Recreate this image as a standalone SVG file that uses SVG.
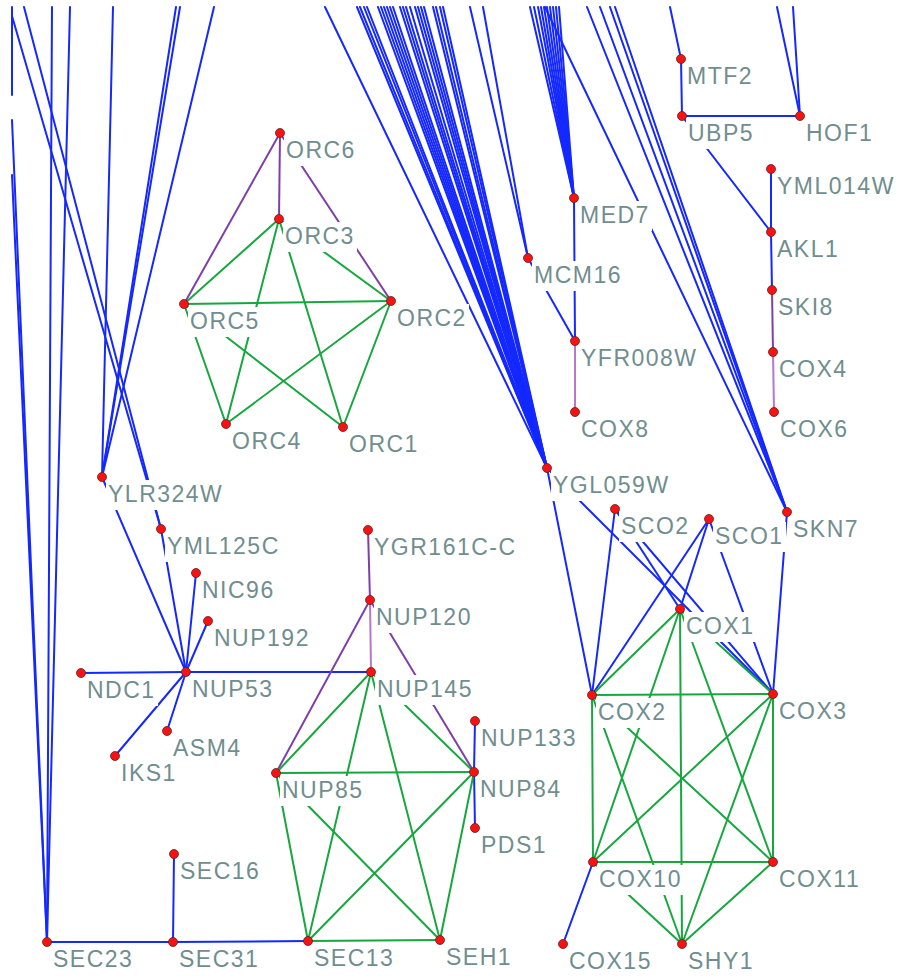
<svg xmlns="http://www.w3.org/2000/svg" width="898" height="976" viewBox="0 0 898 976">
<style>
.b line{stroke:#1428ff;stroke-width:2}
.g line{stroke:#16a83e;stroke-width:2}
.p line{stroke:#7f3fa8;stroke-width:2}
.q line{stroke:#b678c8;stroke-width:2}
.node rect{fill:#ffffff}
.node text{font-family:"Liberation Sans",Arial,sans-serif;font-size:23px;letter-spacing:1.5px;fill:#708e8e}
.node circle{fill:#ff1010;stroke:#4a2a2a;stroke-width:0.8}
</style>
<rect width="898" height="976" fill="#ffffff"/>
<g id="edges" stroke-linecap="round">
<g class="b">
<line x1="12" y1="7" x2="12" y2="95"/>
<line x1="47" y1="942" x2="12" y2="175"/>
<line x1="47" y1="942" x2="12" y2="120"/>
<line x1="47" y1="942" x2="52" y2="7"/>
<line x1="47" y1="942" x2="70" y2="7"/>
<line x1="161" y1="529" x2="24" y2="7"/>
<line x1="161" y1="529" x2="12" y2="16"/>
<line x1="102" y1="477" x2="113" y2="7"/>
<line x1="102" y1="477" x2="176" y2="7"/>
<line x1="102" y1="477" x2="180" y2="7"/>
<line x1="102" y1="477" x2="214" y2="7"/>
<line x1="547" y1="468" x2="325" y2="7"/>
<line x1="547" y1="468" x2="357" y2="7"/>
<line x1="547" y1="468" x2="360" y2="7"/>
<line x1="547" y1="468" x2="364" y2="7"/>
<line x1="547" y1="468" x2="367" y2="7"/>
<line x1="547" y1="468" x2="378" y2="7"/>
<line x1="547" y1="468" x2="381" y2="7"/>
<line x1="547" y1="468" x2="384" y2="7"/>
<line x1="547" y1="468" x2="387" y2="7"/>
<line x1="547" y1="468" x2="390" y2="7"/>
<line x1="547" y1="468" x2="393" y2="7"/>
<line x1="547" y1="468" x2="400" y2="7"/>
<line x1="547" y1="468" x2="403" y2="7"/>
<line x1="547" y1="468" x2="406" y2="7"/>
<line x1="547" y1="468" x2="410" y2="7"/>
<line x1="547" y1="468" x2="415" y2="7"/>
<line x1="547" y1="468" x2="418" y2="7"/>
<line x1="547" y1="468" x2="421" y2="7"/>
<line x1="547" y1="468" x2="424" y2="7"/>
<line x1="547" y1="468" x2="433" y2="7"/>
<line x1="547" y1="468" x2="436" y2="7"/>
<line x1="547" y1="468" x2="440" y2="7"/>
<line x1="547" y1="468" x2="443" y2="7"/>
<line x1="574" y1="198" x2="530" y2="7"/>
<line x1="574" y1="198" x2="534" y2="7"/>
<line x1="574" y1="198" x2="538" y2="7"/>
<line x1="574" y1="198" x2="541" y2="7"/>
<line x1="574" y1="198" x2="544" y2="7"/>
<line x1="574" y1="198" x2="547" y2="7"/>
<line x1="574" y1="198" x2="550" y2="7"/>
<line x1="574" y1="198" x2="553" y2="7"/>
<line x1="574" y1="198" x2="556" y2="7"/>
<line x1="574" y1="198" x2="559" y2="7"/>
<line x1="528" y1="258" x2="483" y2="7"/>
<line x1="528" y1="258" x2="470" y2="7"/>
<line x1="787" y1="512" x2="545" y2="7"/>
<line x1="787" y1="512" x2="587" y2="7"/>
<line x1="787" y1="512" x2="600" y2="7"/>
<line x1="787" y1="512" x2="610" y2="7"/>
<line x1="787" y1="512" x2="615" y2="7"/>
<line x1="681" y1="59" x2="670" y2="7"/>
<line x1="800" y1="116" x2="777" y2="7"/>
<line x1="800" y1="116" x2="793" y2="7"/>
<line x1="681" y1="59" x2="682" y2="116"/>
<line x1="682" y1="116" x2="800" y2="116"/>
<line x1="682" y1="116" x2="771" y2="232"/>
<line x1="771" y1="169" x2="771" y2="232"/>
<line x1="771" y1="232" x2="772" y2="290"/>
<line x1="574" y1="198" x2="575" y2="341"/>
<line x1="528" y1="258" x2="575" y2="341"/>
<line x1="547" y1="468" x2="592" y2="695"/>
<line x1="547" y1="468" x2="773" y2="694"/>
<line x1="615" y1="509" x2="592" y2="695"/>
<line x1="615" y1="509" x2="680" y2="609"/>
<line x1="615" y1="509" x2="773" y2="694"/>
<line x1="709" y1="519" x2="592" y2="695"/>
<line x1="709" y1="519" x2="680" y2="609"/>
<line x1="709" y1="519" x2="773" y2="694"/>
<line x1="787" y1="512" x2="773" y2="694"/>
<line x1="593" y1="862" x2="563" y2="944"/>
<line x1="186" y1="672" x2="81" y2="673"/>
<line x1="186" y1="672" x2="196" y2="573"/>
<line x1="186" y1="672" x2="208" y2="621"/>
<line x1="186" y1="672" x2="161" y2="529"/>
<line x1="186" y1="672" x2="102" y2="477"/>
<line x1="186" y1="672" x2="167" y2="731"/>
<line x1="186" y1="672" x2="115" y2="756"/>
<line x1="186" y1="672" x2="371" y2="672"/>
<line x1="474" y1="772" x2="475" y2="721"/>
<line x1="474" y1="772" x2="475" y2="828"/>
<line x1="47" y1="942" x2="173" y2="942"/>
<line x1="173" y1="942" x2="174" y2="854"/>
<line x1="173" y1="942" x2="308" y2="941"/>
</g>
<g class="p">
<line x1="280" y1="133" x2="279" y2="219"/>
<line x1="280" y1="133" x2="184" y2="304"/>
<line x1="280" y1="133" x2="391" y2="301"/>
<line x1="368" y1="530" x2="370" y2="600"/>
<line x1="370" y1="600" x2="276" y2="773"/>
<line x1="370" y1="600" x2="474" y2="772"/>
<line x1="772" y1="290" x2="773" y2="352"/>
</g>
<g class="q">
<line x1="370" y1="600" x2="371" y2="672"/>
<line x1="773" y1="352" x2="774" y2="412"/>
<line x1="575" y1="341" x2="575" y2="412"/>
</g>
<g class="g">
<line x1="279" y1="219" x2="184" y2="304"/>
<line x1="279" y1="219" x2="391" y2="301"/>
<line x1="279" y1="219" x2="226" y2="424"/>
<line x1="279" y1="219" x2="343" y2="427"/>
<line x1="184" y1="304" x2="391" y2="301"/>
<line x1="184" y1="304" x2="226" y2="424"/>
<line x1="184" y1="304" x2="343" y2="427"/>
<line x1="391" y1="301" x2="226" y2="424"/>
<line x1="391" y1="301" x2="343" y2="427"/>
<line x1="371" y1="672" x2="276" y2="773"/>
<line x1="371" y1="672" x2="474" y2="772"/>
<line x1="371" y1="672" x2="308" y2="941"/>
<line x1="371" y1="672" x2="440" y2="940"/>
<line x1="276" y1="773" x2="474" y2="772"/>
<line x1="276" y1="773" x2="308" y2="941"/>
<line x1="276" y1="773" x2="440" y2="940"/>
<line x1="474" y1="772" x2="308" y2="941"/>
<line x1="474" y1="772" x2="440" y2="940"/>
<line x1="308" y1="941" x2="440" y2="940"/>
<line x1="680" y1="609" x2="592" y2="695"/>
<line x1="680" y1="609" x2="773" y2="694"/>
<line x1="680" y1="609" x2="593" y2="862"/>
<line x1="680" y1="609" x2="773" y2="862"/>
<line x1="680" y1="609" x2="682" y2="944"/>
<line x1="592" y1="695" x2="773" y2="694"/>
<line x1="592" y1="695" x2="593" y2="862"/>
<line x1="592" y1="695" x2="773" y2="862"/>
<line x1="592" y1="695" x2="682" y2="944"/>
<line x1="773" y1="694" x2="593" y2="862"/>
<line x1="773" y1="694" x2="773" y2="862"/>
<line x1="773" y1="694" x2="682" y2="944"/>
<line x1="593" y1="862" x2="773" y2="862"/>
<line x1="593" y1="862" x2="682" y2="944"/>
<line x1="773" y1="862" x2="682" y2="944"/>
</g>
</g>
<g id="nodes">
<g id="MTF2" class="node"><rect x="685" y="62" width="71" height="30"/><text x="687" y="84">MTF2</text><circle cx="681" cy="59" r="4.5"/></g>
<g id="UBP5" class="node"><rect x="686" y="119" width="71" height="30"/><text x="688" y="141">UBP5</text><circle cx="682" cy="116" r="4.5"/></g>
<g id="HOF1" class="node"><rect x="804" y="119" width="72" height="30"/><text x="806" y="141">HOF1</text><circle cx="800" cy="116" r="4.5"/></g>
<g id="YML014W" class="node"><rect x="775" y="172" width="123" height="30"/><text x="777" y="194">YML014W</text><circle cx="771" cy="169" r="4.5"/></g>
<g id="AKL1" class="node"><rect x="775" y="235" width="67" height="30"/><text x="777" y="257">AKL1</text><circle cx="771" cy="232" r="4.5"/></g>
<g id="SKI8" class="node"><rect x="776" y="293" width="61" height="30"/><text x="778" y="315">SKI8</text><circle cx="772" cy="290" r="4.5"/></g>
<g id="COX4" class="node"><rect x="777" y="355" width="73" height="30"/><text x="779" y="377">COX4</text><circle cx="773" cy="352" r="4.5"/></g>
<g id="COX6" class="node"><rect x="778" y="415" width="73" height="30"/><text x="780" y="437">COX6</text><circle cx="774" cy="412" r="4.5"/></g>
<g id="MED7" class="node"><rect x="578" y="201" width="74" height="30"/><text x="580" y="223">MED7</text><circle cx="574" cy="198" r="4.5"/></g>
<g id="MCM16" class="node"><rect x="532" y="261" width="92" height="30"/><text x="534" y="283">MCM16</text><circle cx="528" cy="258" r="4.5"/></g>
<g id="YFR008W" class="node"><rect x="579" y="344" width="121" height="30"/><text x="581" y="366">YFR008W</text><circle cx="575" cy="341" r="4.5"/></g>
<g id="COX8" class="node"><rect x="579" y="415" width="73" height="30"/><text x="581" y="437">COX8</text><circle cx="575" cy="412" r="4.5"/></g>
<g id="YGL059W" class="node"><rect x="551" y="471" width="121" height="30"/><text x="553" y="493">YGL059W</text><circle cx="547" cy="468" r="4.5"/></g>
<g id="SKN7" class="node"><rect x="791" y="515" width="71" height="30"/><text x="793" y="537">SKN7</text><circle cx="787" cy="512" r="4.5"/></g>
<g id="SCO2" class="node"><rect x="619" y="512" width="73" height="30"/><text x="621" y="534">SCO2</text><circle cx="615" cy="509" r="4.5"/></g>
<g id="SCO1" class="node"><rect x="713" y="522" width="73" height="30"/><text x="715" y="544">SCO1</text><circle cx="709" cy="519" r="4.5"/></g>
<g id="COX1" class="node"><rect x="684" y="612" width="73" height="30"/><text x="686" y="634">COX1</text><circle cx="680" cy="609" r="4.5"/></g>
<g id="COX2" class="node"><rect x="596" y="698" width="73" height="30"/><text x="598" y="720">COX2</text><circle cx="592" cy="695" r="4.5"/></g>
<g id="COX3" class="node"><rect x="777" y="697" width="73" height="30"/><text x="779" y="719">COX3</text><circle cx="773" cy="694" r="4.5"/></g>
<g id="COX10" class="node"><rect x="597" y="865" width="87" height="30"/><text x="599" y="887">COX10</text><circle cx="593" cy="862" r="4.5"/></g>
<g id="COX11" class="node"><rect x="777" y="865" width="87" height="30"/><text x="779" y="887">COX11</text><circle cx="773" cy="862" r="4.5"/></g>
<g id="SHY1" class="node"><rect x="686" y="947" width="71" height="29"/><text x="688" y="969">SHY1</text><circle cx="682" cy="944" r="4.5"/></g>
<g id="COX15" class="node"><rect x="567" y="947" width="87" height="29"/><text x="569" y="969">COX15</text><circle cx="563" cy="944" r="4.5"/></g>
<g id="ORC6" class="node"><rect x="284" y="136" width="74" height="30"/><text x="286" y="158">ORC6</text><circle cx="280" cy="133" r="4.5"/></g>
<g id="ORC3" class="node"><rect x="283" y="222" width="74" height="30"/><text x="285" y="244">ORC3</text><circle cx="279" cy="219" r="4.5"/></g>
<g id="ORC5" class="node"><rect x="188" y="307" width="74" height="30"/><text x="190" y="329">ORC5</text><circle cx="184" cy="304" r="4.5"/></g>
<g id="ORC2" class="node"><rect x="395" y="304" width="74" height="30"/><text x="397" y="326">ORC2</text><circle cx="391" cy="301" r="4.5"/></g>
<g id="ORC4" class="node"><rect x="230" y="427" width="74" height="30"/><text x="232" y="449">ORC4</text><circle cx="226" cy="424" r="4.5"/></g>
<g id="ORC1" class="node"><rect x="347" y="430" width="74" height="30"/><text x="349" y="452">ORC1</text><circle cx="343" cy="427" r="4.5"/></g>
<g id="YLR324W" class="node"><rect x="106" y="480" width="120" height="30"/><text x="108" y="502">YLR324W</text><circle cx="102" cy="477" r="4.5"/></g>
<g id="YML125C" class="node"><rect x="165" y="532" width="117" height="30"/><text x="167" y="554">YML125C</text><circle cx="161" cy="529" r="4.5"/></g>
<g id="NIC96" class="node"><rect x="200" y="576" width="77" height="30"/><text x="202" y="598">NIC96</text><circle cx="196" cy="573" r="4.5"/></g>
<g id="NUP192" class="node"><rect x="212" y="624" width="100" height="30"/><text x="214" y="646">NUP192</text><circle cx="208" cy="621" r="4.5"/></g>
<g id="NUP53" class="node"><rect x="190" y="675" width="86" height="30"/><text x="192" y="697">NUP53</text><circle cx="186" cy="672" r="4.5"/></g>
<g id="NDC1" class="node"><rect x="85" y="676" width="73" height="30"/><text x="87" y="698">NDC1</text><circle cx="81" cy="673" r="4.5"/></g>
<g id="ASM4" class="node"><rect x="171" y="734" width="73" height="30"/><text x="173" y="756">ASM4</text><circle cx="167" cy="731" r="4.5"/></g>
<g id="IKS1" class="node"><rect x="119" y="759" width="61" height="30"/><text x="121" y="781">IKS1</text><circle cx="115" cy="756" r="4.5"/></g>
<g id="YGR161C-C" class="node"><rect x="372" y="533" width="147" height="30"/><text x="374" y="555">YGR161C-C</text><circle cx="368" cy="530" r="4.5"/></g>
<g id="NUP120" class="node"><rect x="374" y="603" width="100" height="30"/><text x="376" y="625">NUP120</text><circle cx="370" cy="600" r="4.5"/></g>
<g id="NUP145" class="node"><rect x="375" y="675" width="100" height="30"/><text x="377" y="697">NUP145</text><circle cx="371" cy="672" r="4.5"/></g>
<g id="NUP85" class="node"><rect x="280" y="776" width="86" height="30"/><text x="282" y="798">NUP85</text><circle cx="276" cy="773" r="4.5"/></g>
<g id="NUP84" class="node"><rect x="478" y="775" width="86" height="30"/><text x="480" y="797">NUP84</text><circle cx="474" cy="772" r="4.5"/></g>
<g id="NUP133" class="node"><rect x="479" y="724" width="100" height="30"/><text x="481" y="746">NUP133</text><circle cx="475" cy="721" r="4.5"/></g>
<g id="PDS1" class="node"><rect x="479" y="831" width="71" height="30"/><text x="481" y="853">PDS1</text><circle cx="475" cy="828" r="4.5"/></g>
<g id="SEC16" class="node"><rect x="178" y="857" width="85" height="30"/><text x="180" y="879">SEC16</text><circle cx="174" cy="854" r="4.5"/></g>
<g id="SEC23" class="node"><rect x="51" y="945" width="85" height="30"/><text x="53" y="967">SEC23</text><circle cx="47" cy="942" r="4.5"/></g>
<g id="SEC31" class="node"><rect x="177" y="945" width="85" height="30"/><text x="179" y="967">SEC31</text><circle cx="173" cy="942" r="4.5"/></g>
<g id="SEC13" class="node"><rect x="312" y="944" width="85" height="30"/><text x="314" y="966">SEC13</text><circle cx="308" cy="941" r="4.5"/></g>
<g id="SEH1" class="node"><rect x="444" y="943" width="71" height="30"/><text x="446" y="965">SEH1</text><circle cx="440" cy="940" r="4.5"/></g>
</g>
</svg>
